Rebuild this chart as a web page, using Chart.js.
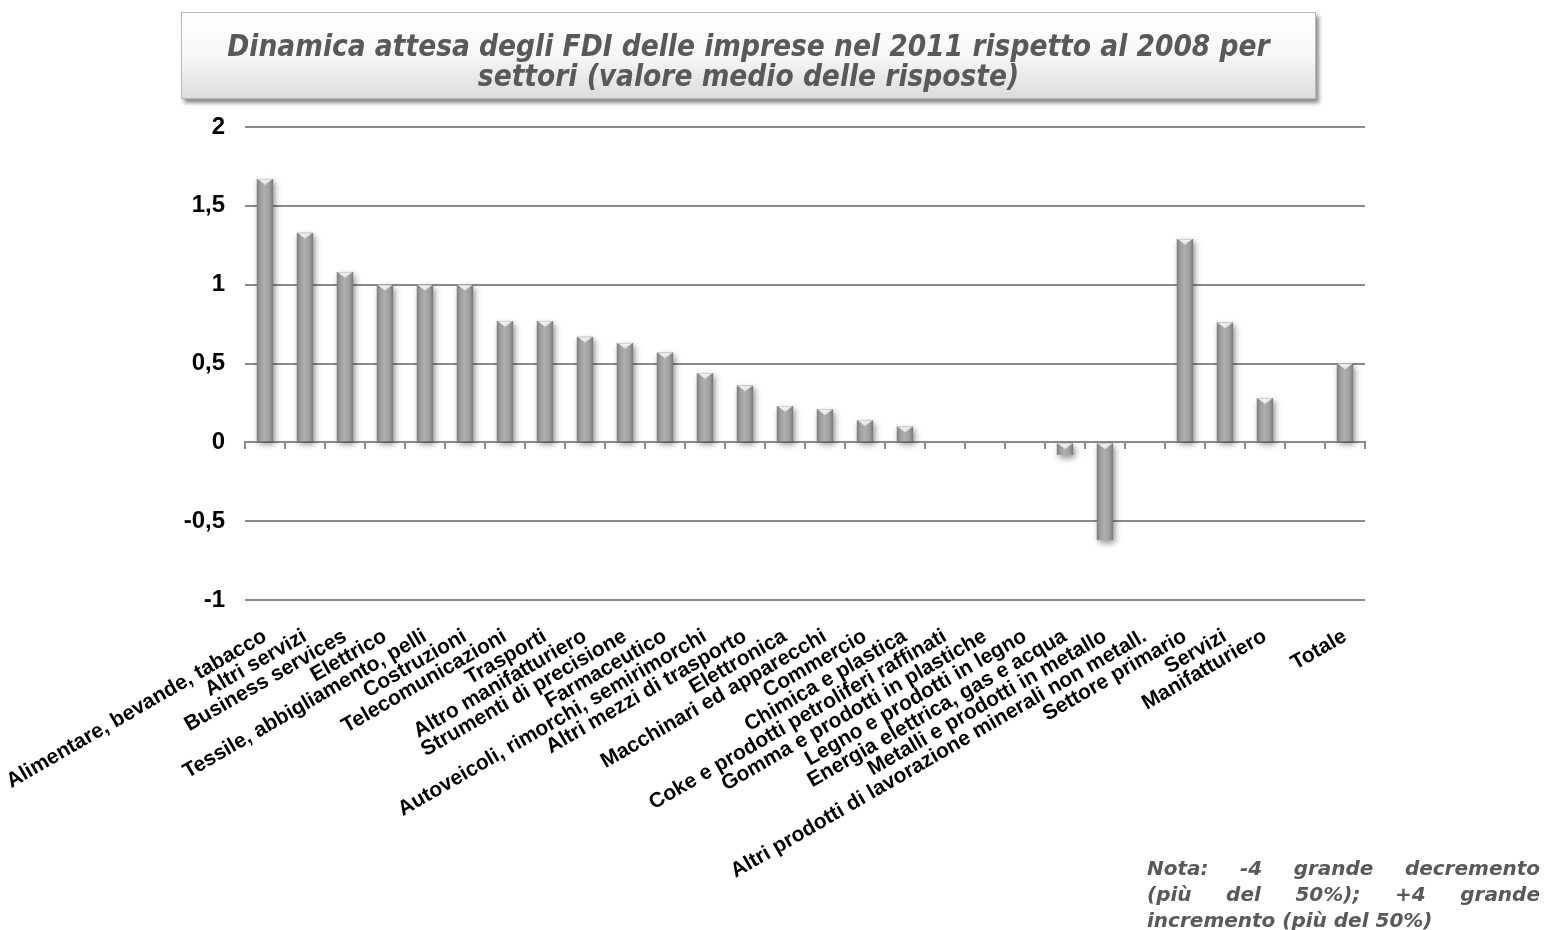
<!DOCTYPE html>
<html>
<head>
<meta charset="utf-8">
<script src="https://cdn.jsdelivr.net/npm/chart.js@4.4.0/dist/chart.umd.min.js"></script>
<style>
  html, body { margin: 0; padding: 0; background: #ffffff; }
  #wrap { position: relative; width: 1546px; height: 930px; overflow: hidden; }
  #chart { position: absolute; left: 0; top: 0; }
  #title {
    position: absolute; left: 181px; top: 12px; width: 1135px; height: 87px;
    box-sizing: border-box; padding-top: 10px;
    background: linear-gradient(#ffffff 0%, #f7f7f7 50%, #dcdcdc 100%);
    border: 1px solid #b8b8b8;
    box-shadow: 3px 4px 4px rgba(0,0,0,0.45);
    display: flex; align-items: center; justify-content: center; text-align: center;
    font-family: "DejaVu Sans Condensed", "DejaVu Sans", sans-serif;
    font-weight: bold; font-style: italic; font-size: 29.5px; line-height: 30px;
    color: #595959;
  }
  #note {
    position: absolute; left: 1147px; top: 855px; width: 393px;
    font-family: "DejaVu Sans", Verdana, sans-serif;
    font-weight: bold; font-style: italic; font-size: 20px; line-height: 26px;
    color: #595959;
  }
  #note div { text-align: justify; text-align-last: justify; white-space: nowrap; }
  #note div.last { text-align: left; text-align-last: left; }
</style>
</head>
<body>
<div id="wrap">
  <canvas id="chart" width="1546" height="930"></canvas>
  <div id="title">Dinamica attesa degli FDI delle imprese nel 2011 rispetto al 2008 per<br>settori (valore medio delle risposte)</div>
  <div id="note">
    <div>Nota: &nbsp; -4 &nbsp; grande &nbsp; decremento</div>
    <div>(più &nbsp; del &nbsp; 50%); &nbsp; +4 &nbsp; grande</div>
    <div class="last">incremento (più del 50%)</div>
  </div>
</div>
<script>
// Sectors, in plotting order (one empty slot before the total)
const categories = [
  'Alimentare, bevande, tabacco',
  'Altri servizi',
  'Business services',
  'Elettrico',
  'Tessile, abbigliamento, pelli',
  'Costruzioni',
  'Telecomunicazioni',
  'Trasporti',
  'Altro manifatturiero',
  'Strumenti di precisione',
  'Farmaceutico',
  'Autoveicoli, rimorchi, semirimorchi',
  'Altri mezzi di trasporto',
  'Elettronica',
  'Macchinari ed apparecchi',
  'Commercio',
  'Chimica e plastica',
  'Coke e prodotti petroliferi raffinati',
  'Gomma e prodotti in plastiche',
  'Legno e prodotti in legno',
  'Energia elettrica, gas e acqua',
  'Metalli e prodotti in metallo',
  'Altri prodotti di lavorazione minerali non metall.',
  'Settore primario',
  'Servizi',
  'Manifatturiero',
  '',
  'Totale'
];

// Mean expected change of FDI, 2011 vs 2008
const values = [
  1.67, 1.33, 1.08, 1.00, 1.00, 1.00, 0.77, 0.77, 0.67, 0.63,
  0.57, 0.44, 0.36, 0.23, 0.21, 0.14, 0.10, 0, 0, 0,
  -0.08, -0.62, 0, 1.29, 0.76, 0.28, null, 0.50
];

const yTickValues = [-1, -0.5, 0, 0.5, 1, 1.5, 2];
const yTickLabels = ['-1', '-0,5', '0', '0,5', '1', '1,5', '2'];

const BAR_PCT = 0.41;

// Cylinder-like horizontal shading for each bar
function barFill(ctx) {
  const chart = ctx.chart;
  const xs = chart.scales && chart.scales.x;
  if (!xs || ctx.type !== 'data' || !isFinite(xs.width) || xs.width <= 0) return '#9e9e9e';
  const cx = xs.getPixelForValue(ctx.dataIndex);
  const w = xs.width / categories.length * BAR_PCT;
  const g = chart.ctx.createLinearGradient(cx - w / 2, 0, cx + w / 2, 0);
  g.addColorStop(0.00, '#7c7c7c');
  g.addColorStop(0.22, '#a0a0a0');
  g.addColorStop(0.50, '#afafaf');
  g.addColorStop(0.78, '#9d9d9d');
  g.addColorStop(1.00, '#777777');
  return g;
}

// Soft drop shadow under the bars, plus a light bevel at each bar's top edge
const barEffects = {
  id: 'barEffects',
  beforeDatasetsDraw(chart) {
    const c = chart.ctx;
    c.save();
    c.shadowColor = 'rgba(0,0,0,0.42)';
    c.shadowBlur = 6;
    c.shadowOffsetX = 2;
    c.shadowOffsetY = 3;
  },
  afterDatasetsDraw(chart) {
    const c = chart.ctx;
    c.restore();
    const meta = chart.getDatasetMeta(0);
    meta.data.forEach((el, i) => {
      const v = values[i];
      if (v === null || v === 0) return;
      const p = el.getProps(['x', 'y', 'base', 'width'], true);
      const top = Math.min(p.y, p.base);
      const h = Math.abs(p.base - p.y);
      const half = p.width / 2;
      const depth = Math.min(6, h * 0.5);
      c.save();
      const g = c.createLinearGradient(0, top, 0, top + depth);
      g.addColorStop(0, 'rgba(255,255,255,0.95)');
      g.addColorStop(1, 'rgba(255,255,255,0.55)');
      c.fillStyle = g;
      c.beginPath();
      c.moveTo(p.x - half + 1.5, top + 0.5);
      c.lineTo(p.x + half - 1.5, top + 0.5);
      c.lineTo(p.x, top + depth);
      c.closePath();
      c.fill();
      c.fillStyle = 'rgba(210,210,210,0.9)';
      c.fillRect(p.x - half + 1, top, p.width - 2, 1);
      c.restore();
    });
  }
};

new Chart(document.getElementById('chart'), {
  type: 'bar',
  data: {
    labels: categories,
    datasets: [{
      data: values,
      backgroundColor: barFill,
      borderWidth: 0,
      barPercentage: BAR_PCT,
      categoryPercentage: 1.0,
      xAxisID: 'x',
      yAxisID: 'y'
    }]
  },
  options: {
    responsive: false,
    animation: false,
    devicePixelRatio: 1,
    layout: { padding: { top: 127, right: 181, left: 0, bottom: 0 } },
    plugins: {
      legend: { display: false },
      tooltip: { enabled: false },
      title: { display: false }
    },
    scales: {
      x: {
        type: 'category',
        position: 'bottom',
        offset: true,
        grid: { display: false, drawTicks: false },
        border: { display: false },
        ticks: {
          autoSkip: false,
          minRotation: 30,
          maxRotation: 30,
          padding: 24,
          color: '#000000',
          font: { family: '"Liberation Sans", Arial, sans-serif', weight: 'bold', size: 21 }
        },
        afterFit(s) { s.height = 330; s.paddingLeft = 0; s.paddingRight = 0; }
      },
      x2: {
        type: 'category',
        position: { y: 0 },
        offset: true,
        grid: { drawOnChartArea: false, drawTicks: true, tickLength: 6, color: '#8a8a8a', lineWidth: 2 },
        border: { display: true, color: '#8a8a8a', width: 2 },
        ticks: { display: false }
      },
      y: {
        min: -1,
        max: 2,
        afterBuildTicks(s) { s.ticks = yTickValues.map(v => ({ value: v })); },
        grid: { color: '#8a8a8a', lineWidth: 2, drawTicks: false },
        border: { display: false },
        ticks: {
          padding: 20,
          color: '#000000',
          font: { family: '"Liberation Sans", Arial, sans-serif', weight: 'bold', size: 24 },
          callback: (v) => yTickLabels[yTickValues.indexOf(v)]
        },
        afterFit(s) { s.width = 245; }
      }
    }
  },
  plugins: [barEffects]
});
</script>
</body>
</html>
